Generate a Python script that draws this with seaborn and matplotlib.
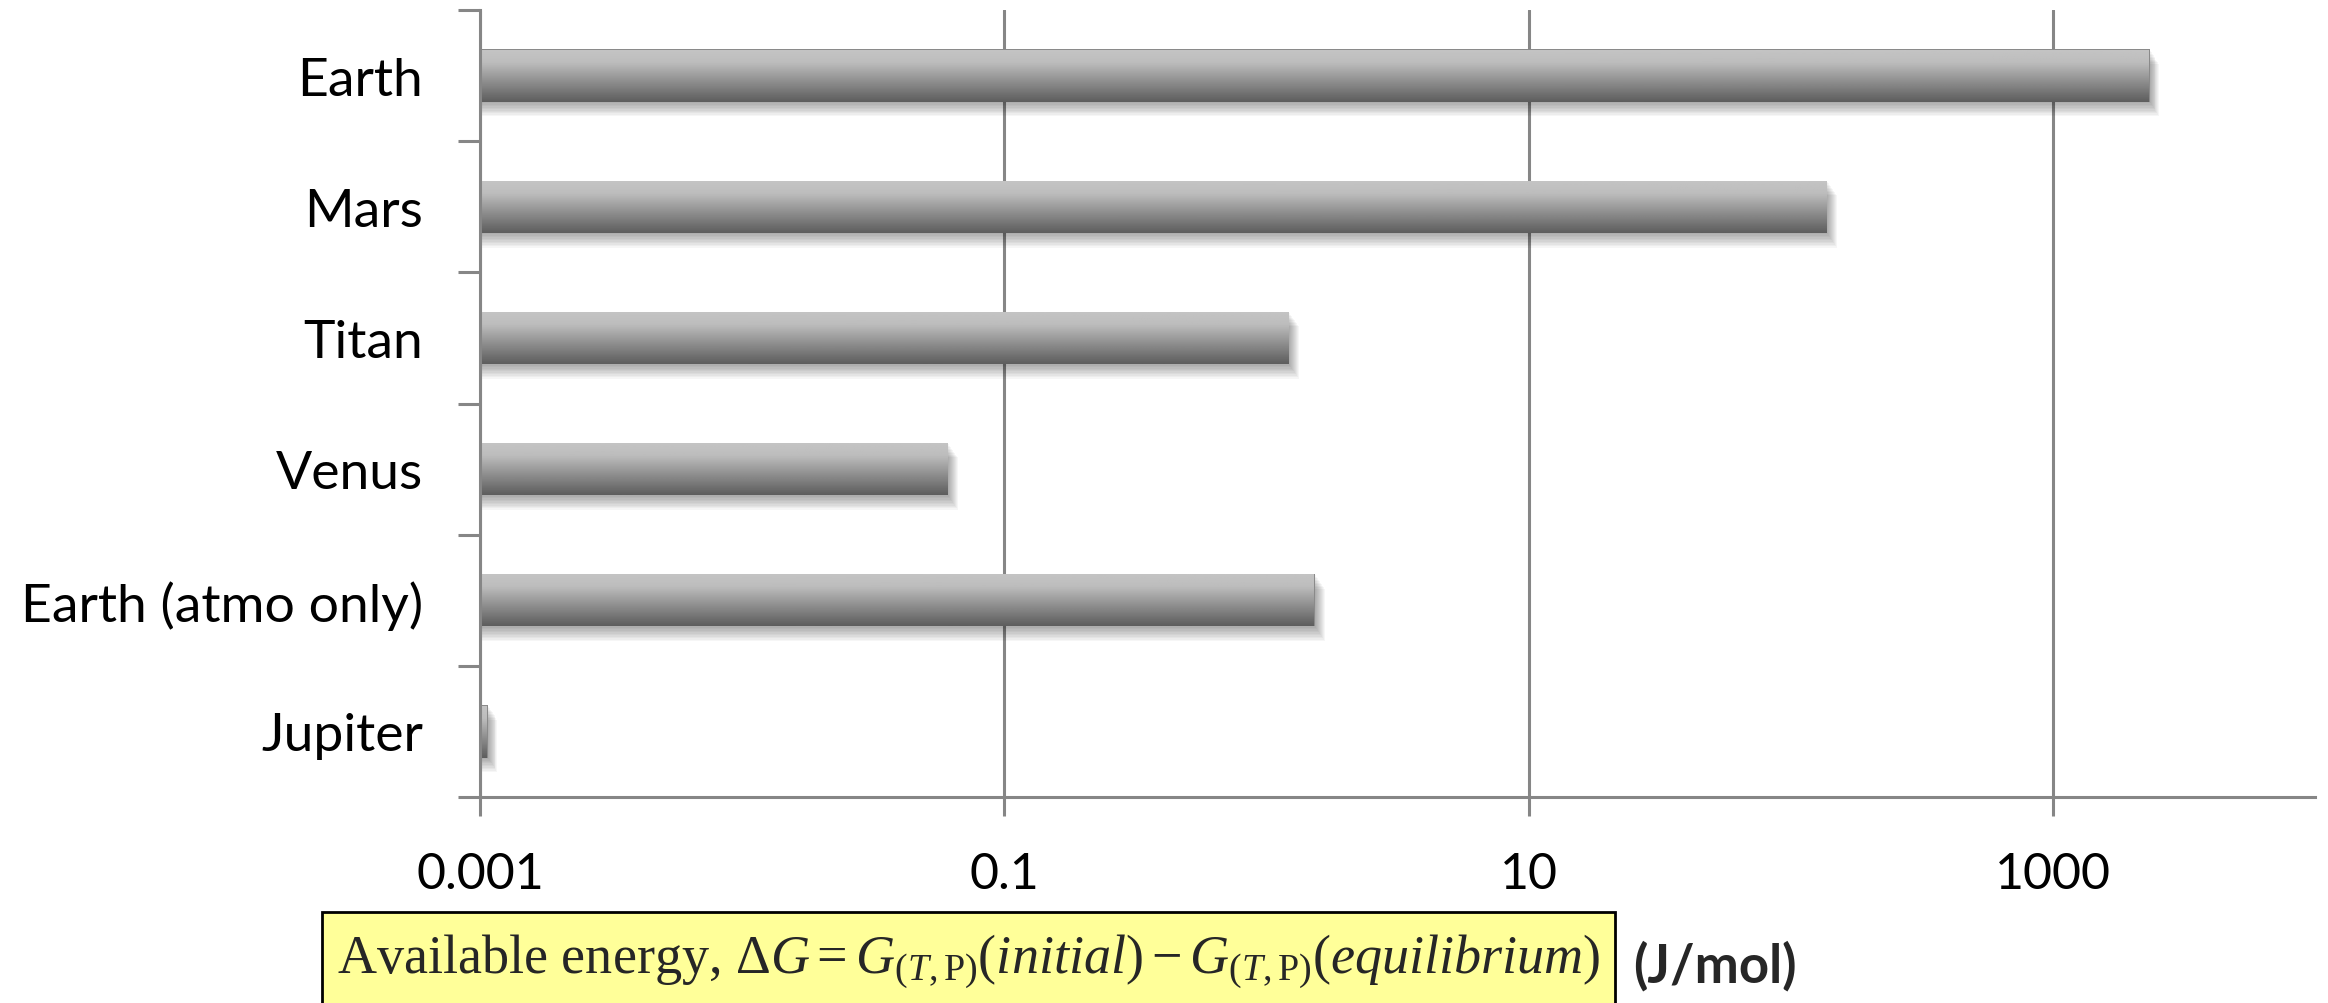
import numpy as np
import pandas as pd
import matplotlib
matplotlib.use("Agg")
import matplotlib.pyplot as plt
import matplotlib.patheffects as pe
from matplotlib.patches import Rectangle
import seaborn as sns

# Available Gibbs energy of planetary atmospheres (J/mol)
planets = ["Earth", "Mars", "Titan", "Venus", "Earth (atmo only)", "Jupiter"]
delta_g = [2340, 138, 1.22, 0.061, 1.53, 0.00107]
tick_values = [0.001, 0.1, 10, 1000]
tick_labels = ["0.001", "0.1", "10", "1000"]

sns.set_style("white")
plt.rcParams["font.family"] = ["Lato", "DejaVu Sans"]
plt.rcParams["mathtext.fontset"] = "custom"
plt.rcParams["mathtext.rm"] = "Liberation Serif"
plt.rcParams["mathtext.it"] = "Liberation Serif:italic"
plt.rcParams["mathtext.bf"] = "Liberation Serif:bold"

GRAY = "#868686"
W, H = 2328, 1004

fig = plt.figure(figsize=(W / 100, H / 100), dpi=100)
ax = fig.add_axes([480 / W, 206 / H, (2315 - 480) / W, (798 - 11) / H])

df = pd.DataFrame({"planet": planets, "dG": delta_g})
sns.barplot(data=df, x="dG", y="planet", orient="h", color="#8a8a8a",
            saturation=1, width=0.40, linewidth=0, ax=ax)

ax.set_xscale("log")
xmin, xmax = 0.001, 10000
ax.set_xlim(xmin, xmax)
ax.set_ylim(len(planets) - 0.5, -0.5)

# soft drop shadow + vertical gray gradient on every bar
grad = np.concatenate([np.linspace(0.77, 0.74, 25), np.linspace(0.74, 0.37, 75)])
grad_img = np.repeat(grad[:, None], 2, axis=1)
shadow = [pe.SimplePatchShadow(offset=(0.7 * i, -1.05 * i), shadow_rgbFace="black",
                               alpha=0.035) for i in range(1, 11)]
for patch in ax.patches:
    patch.set_linewidth(0)
    patch.set_edgecolor("none")
    patch.set_path_effects(shadow + [pe.Normal()])
    patch.set_zorder(1.5)
    y0 = patch.get_y()
    h = patch.get_height()
    x1 = patch.get_x() + patch.get_width()
    ax.imshow(grad_img, cmap="gray", vmin=0, vmax=1, aspect="auto",
              origin="upper", extent=(xmin, x1, y0 + h, y0),
              interpolation="bilinear", zorder=2)

ax.set_xlim(xmin, xmax)
ax.set_ylim(len(planets) - 0.5, -0.5)

# x axis: log ticks, vertical gridlines
ax.set_xticks(tick_values)
ax.set_xticklabels(tick_labels)
ax.xaxis.set_minor_locator(matplotlib.ticker.NullLocator())
ax.tick_params(axis="x", which="major", bottom=True, direction="out", length=13.7,
               width=2.2, color=GRAY, pad=25, labelsize=36, labelcolor="black")
ax.grid(axis="x", which="major", color=GRAY, linewidth=2.2)
ax.grid(axis="y", visible=False)
ax.set_axisbelow(True)

# y axis: ticks between categories, labels at centers
ax.set_yticks(np.arange(-0.5, len(planets), 1.0))
ax.set_yticklabels([""] * (len(planets) + 1))
ax.set_yticks(np.arange(len(planets)), minor=True)
ax.set_yticklabels(planets, minor=True)
ax.tick_params(axis="y", which="major", left=True, direction="out", length=16,
               width=2.2, color=GRAY)
ax.tick_params(axis="y", which="minor", left=True, length=0, pad=41, labelsize=38.5,
               labelcolor="black")
ax.set_xlabel("")
ax.set_ylabel("")

for side in ["top", "right"]:
    ax.spines[side].set_visible(False)
for side in ["left", "bottom"]:
    ax.spines[side].set_color(GRAY)
    ax.spines[side].set_linewidth(2.2)

# axis title: boxed formula plus unit
fig.patches.append(Rectangle((322 / W, -0.02), (1615 - 322) / W, (1004 - 913) / H + 0.02,
                             transform=fig.transFigure, facecolor="#FFFF99",
                             edgecolor="black", linewidth=2, zorder=1))
fig.text((322 + 1615) / 2 / W, (1004 - 962) / H,
         r"Available energy, $\Delta G = G_{(T,\mathrm{P})}(initial) - G_{(T,\mathrm{P})}(equilibrium)$",
         ha="center", va="center", fontsize=39, family="Liberation Serif", zorder=2)
fig.text(1633 / W, (1004 - 966) / H, "(J/mol)", ha="left", va="center",
         fontsize=38, fontweight="bold")

fig.savefig("out.png", dpi=100)
